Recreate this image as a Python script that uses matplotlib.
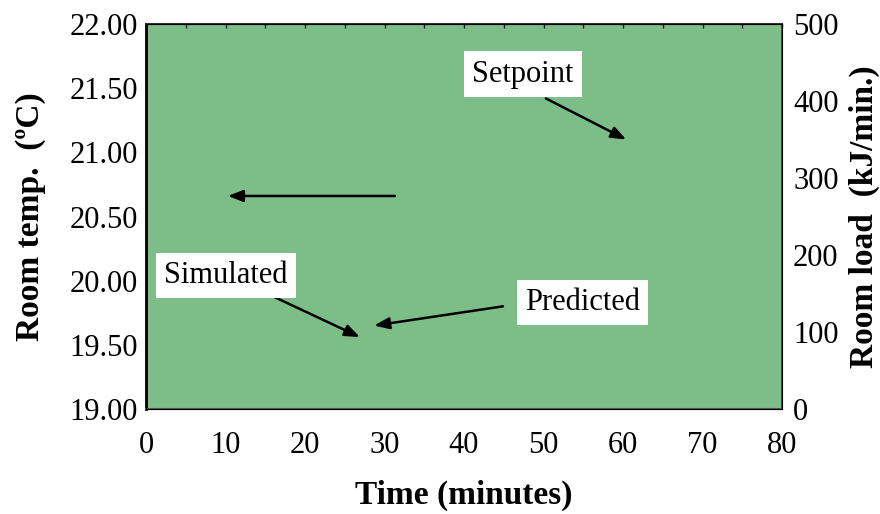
import matplotlib
matplotlib.use("Agg")
import matplotlib.pyplot as plt
import numpy as np

# Axis scales / tick labels
time_ticks = [0, 10, 20, 30, 40, 50, 60, 70, 80]
temp_ticks = [19.0, 19.5, 20.0, 20.5, 21.0, 21.5, 22.0]
load_ticks = [0, 100, 200, 300, 400, 500]

# Annotations: (label, text-box centre, arrow start, arrow tip) in data units (time, temp)
ann_labels = ["Setpoint", "Simulated", "Predicted"]
ann_box_xy = [(47.4, 21.61), (10.06, 20.04), (54.9, 19.83)]
ann_start_xy = [(50.3, 21.42), (14.0, 19.935), (44.9, 19.80)]
ann_tip_xy = [(60.4, 21.10), (26.9, 19.56), (28.7, 19.65)]
left_arrow = ((31.3, 20.66), (10.3, 20.66))

plt.rcParams['font.family'] = ['Liberation Serif', 'DejaVu Serif']

fig = plt.figure(figsize=(8.8, 5.14), dpi=100)
ax = fig.add_axes([146/880, 1-409/514, (782-146)/880, (409-24)/514])
ax.set_facecolor('#7dbe88')
ax.set_xlim(0, 80)
ax.set_ylim(19, 22)
ax.set_xticks(time_ticks)
ax.set_xticklabels([str(t) for t in time_ticks], fontsize=22)
ax.set_yticks(temp_ticks)
ax.set_yticklabels([f"{t:.2f}" for t in temp_ticks], fontsize=22)
ax.tick_params(axis='y', length=0, pad=6)
ax.tick_params(axis='x', length=0, pad=16)
ax.set_xlabel("Time (minutes)", fontsize=24, fontweight='bold', labelpad=14)
ax.set_ylabel("Room temp.  (\u00baC)", fontsize=24, fontweight='bold', labelpad=17)

ax.spines['left'].set_linewidth(2.0)
ax.spines['left'].set_color('black')
ax.spines['bottom'].set_color('#555555')
ax.spines['bottom'].set_linewidth(1.5)
ax.spines['top'].set_color('#333333')
ax.spines['top'].set_linewidth(1.5)
ax.spines['right'].set_color('#333333')
ax.spines['right'].set_linewidth(1.2)

ax2 = ax.twinx()
ax2.set_ylim(0, 500)
ax2.set_yticks(load_ticks)
ax2.set_yticklabels([str(t) for t in load_ticks], fontsize=22)
ax2.tick_params(axis='y', length=0, pad=8)
ax2.set_ylabel("Room load  (kJ/min.)", fontsize=24, fontweight='bold', labelpad=7)

# top minor ticks
secx = ax.secondary_xaxis('top')
secx.set_xticks(np.arange(0, 81, 5))
secx.set_xticklabels([])
secx.tick_params(direction='in', length=3, width=1, color='#222222')
secx.spines['top'].set_visible(False)

arrowprops = dict(arrowstyle='-|>,head_length=0.9,head_width=0.35', color='black', lw=1.8, shrinkA=0, shrinkB=0)
for lab, bxy, sxy, tip in zip(ann_labels, ann_box_xy, ann_start_xy, ann_tip_xy):
    ax.annotate("", xy=tip, xytext=sxy, arrowprops=arrowprops)
    ax.text(bxy[0], bxy[1], lab, fontsize=22, ha='center', va='center',
            bbox=dict(boxstyle='square,pad=0.27', fc='white', ec='none'))
ax.annotate("", xy=left_arrow[1], xytext=left_arrow[0], arrowprops=arrowprops)

fig.savefig("out.png", dpi=100)
